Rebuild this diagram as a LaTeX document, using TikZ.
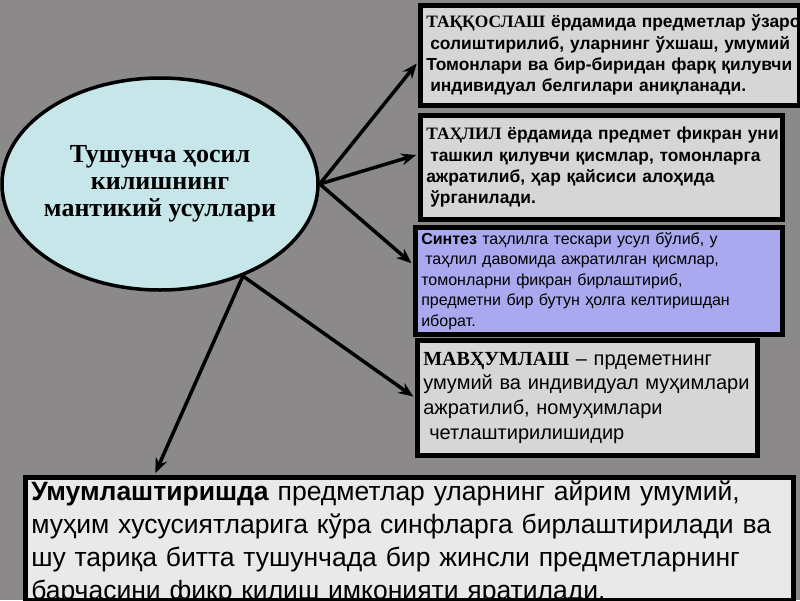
\documentclass[tikz,border=0pt]{standalone}
\usepackage{fontspec}
\setmainfont{Liberation Serif}
\setsansfont{Liberation Sans}
\usetikzlibrary{shapes.geometric,arrows.meta}
\definecolor{bggray}{RGB}{139,137,137}
\definecolor{ellfill}{RGB}{198,230,234}
\definecolor{boxgray}{RGB}{214,214,214}
\definecolor{lavender}{RGB}{170,168,238}
\definecolor{palegray}{RGB}{233,233,233}
\begin{document}
\begin{tikzpicture}[x=1pt,y=-1pt,
  box/.style={draw=black,line width=4.5pt,rectangle,anchor=north west,align=left,
    inner xsep=6pt,inner ysep=0pt},
  boldtxt/.style={font=\sffamily\bfseries\fontsize{17.4}{21.3}\selectfont},
  arr/.style={-{Stealth[length=15pt,width=12pt]},line width=3.5pt,shorten >=2pt}]
\useasboundingbox (0,0) rectangle (800,600);
\clip (0,0) rectangle (800,600);
\fill[bggray] (0,0) rectangle (800,600);
%\draw[step=50,very thin,color=gray] (0,0) grid (800,600);
\node[ellipse,draw,line width=3.5pt,fill=ellfill,minimum width=316,minimum height=212,
  inner xsep=-8pt,inner ysep=0pt,
  align=center,font=\rmfamily\bfseries\fontsize{26}{26.8}\selectfont] (usul) at (160,184)
  {Тушунча ҳосил\\килишнинг\\мантикий усуллари};
% right column
\node[box,boldtxt,fill=boxgray,minimum width=379,minimum height=100,text width=367] (taq) at (418,3)
  {\mbox{{\rmfamily ТАҚҚОСЛАШ} ёрдамида предметлар ўзаро}\\
   \hspace*{4pt}солиштирилиб, уларнинг ўхшаш, умумий\\
   Томонлари ва бир-биридан фарқ қилувчи\\
   \hspace*{4pt}индивидуал белгилари аниқланади.};
\node[box,boldtxt,fill=boxgray,minimum width=362,minimum height=104,text width=350] (tah) at (418,113)
  {\mbox{{\rmfamily ТАҲЛИЛ} ёрдамида предмет фикран уни}\\
   \hspace*{4pt}ташкил қилувчи қисмлар, томонларга\\
   ажратилиб, ҳар қайсиси алоҳида\\
   \hspace*{4pt}ўрганилади.};
\node[box,fill=lavender,minimum width=367,minimum height=107,text width=355,
  font=\sffamily\fontsize{16}{20.5}\selectfont] (sin) at (413,225)
  {\textbf{Синтез} таҳлилга тескари усул бўлиб, у\\
   \hspace*{4pt}таҳлил давомида ажратилган қисмлар,\\
   томонларни фикран бирлаштириб,\\
   предметни бир бутун ҳолга келтиришдан\\
   иборат.};
\node[box,fill=boxgray,minimum width=340,minimum height=115,text width=328,
  font=\sffamily\fontsize{20}{24.7}\selectfont] (mav) at (415,338)
  {{\rmfamily\bfseries МАВҲУМЛАШ} -- прдеметнинг\\
   умумий ва индивидуал муҳимлари\\
   ажратилиб, номуҳимлари\\
   \hspace*{6pt}четлаштирилишидир};
% bottom, last line runs under the frame
\node[box,fill=palegray,minimum width=768,text width=756,text height=23.5pt,text depth=99pt,
  font=\sffamily\fontsize{26.5}{33}\selectfont] (umum) at (23,475)
  {\textbf{Умумлаштиришда} предметлар уларнинг айрим умумий,\\
   муҳим хусусиятларига кўра синфларга бирлаштирилади ва\\
   шу тариқа битта тушунчада бир жинсли предметларнинг\\
   барчасини фикр қилиш имконияти яратилади.};
\draw[arr] (usul.east) -- (taq.182);
\draw[arr] (usul.east) -- (tah.176);
\draw[arr] (usul.east) -- (sin.175);
\draw[arr] (usul.-48) -- (mav.west);
\draw[arr] (usul.-48) -- (umum.166);
\end{tikzpicture}
\end{document}
